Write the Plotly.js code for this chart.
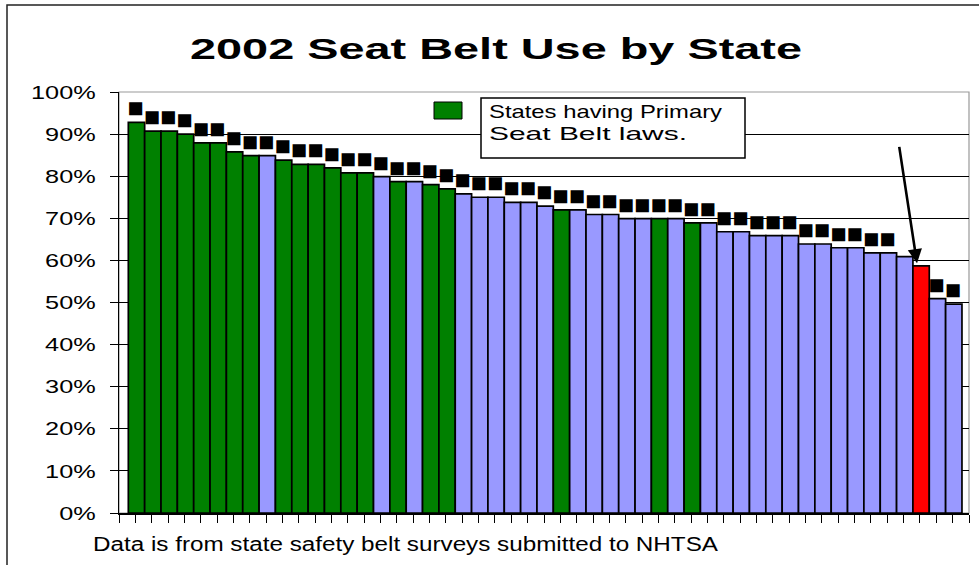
<!DOCTYPE html>
<html>
<head>
<meta charset="utf-8">
<script src="https://cdn.plot.ly/plotly-3.0.1.min.js"></script>
<style>
  html, body { margin: 0; padding: 0; background: #fff; }
  #chart { width: 979px; height: 565px; }
</style>
</head>
<body>
<div id="chart"></div>
<script>
// ---- Data ----
const chartTitle = "2002 Seat Belt Use by State";
const sourceNote = "Data is from state safety belt surveys submitted to NHTSA";
const legendLine1 = "States having Primary";
const legendLine2 = "Seat Belt laws.";

// Seat belt use, states ranked from highest to lowest (fraction)
const beltUse = [
  0.928, 0.907, 0.907, 0.900, 0.879, 0.879, 0.858, 0.849, 0.849, 0.838,
  0.828, 0.828, 0.820, 0.808, 0.808, 0.799, 0.787, 0.787, 0.780, 0.770,
  0.758, 0.750, 0.750, 0.738, 0.738, 0.729, 0.720, 0.720, 0.709, 0.709,
  0.699, 0.699, 0.699, 0.699, 0.689, 0.689, 0.668, 0.668, 0.659, 0.659,
  0.659, 0.639, 0.639, 0.630, 0.630, 0.618, 0.618, 0.609, 0.587, 0.509,
  0.496
];
// 1 = state has a primary seat belt law
const primaryLaw = [
  1, 1, 1, 1, 1, 1, 1, 1, 0, 1,
  1, 1, 1, 1, 1, 0, 1, 0, 1, 1,
  0, 0, 0, 0, 0, 0, 1, 0, 0, 0,
  0, 0, 1, 0, 1, 0, 0, 0, 0, 0,
  0, 0, 0, 0, 0, 0, 0, 0, 0, 0,
  0
];
const highlightedRank = 49;      // the state pointed at by the arrow
const unlabeledRanks = [48, 49]; // bars without a data label box

// ---- Derived ----
const rank = beltUse.map((v, i) => i + 1);
const barColors = rank.map((r, i) =>
  r === highlightedRank ? "#FF0000" : (primaryLaw[i] ? "#008000" : "#9999FF"));
// the original data labels render as solid black boxes
const barLabels = rank.map(r => unlabeledRanks.includes(r) ? "" : "\u25A0");

const FONT = "Liberation Sans, Arial, sans-serif";

const trace = {
  type: "bar",
  x: rank,
  y: beltUse,
  width: 1,
  marker: { color: barColors, line: { color: "#000", width: 1.7 } },
  text: barLabels,
  textposition: "outside",
  textfont: { family: "Liberation Sans", size: 27, color: "#000" },
  constraintext: "none",
  cliponaxis: false,
  hoverinfo: "skip"
};

// plot area in pixels (l=119, r=969, t=92, b=513)
const L = 119, R = 969, T = 92, B = 513;
const px = x => (x - L) / (R - L);
const py = y => (B - y) / (B - T);

const layout = {
  width: 979, height: 565,
  margin: { l: L, r: 979 - R, t: T, b: 565 - B, pad: 0 },
  paper_bgcolor: "#fff", plot_bgcolor: "#fff",
  showlegend: false,
  font: { family: FONT, color: "#000" },
  title: {
    text: chartTitle,
    font: { family: FONT, size: 29, color: "#000", weight: "bold" },
    x: 496 / 979, xanchor: "center", xref: "container",
    y: 1 - 49 / 565, yanchor: "middle", yref: "container"
  },
  xaxis: {
    range: [-0.07, 51.93],
    tickmode: "linear", tick0: -0.07, dtick: 1,
    ticks: "outside", ticklen: 8, tickwidth: 1, tickcolor: "#000",
    showticklabels: false,
    showline: true, linecolor: "#000", linewidth: 1.5,
    showgrid: false, zeroline: false, fixedrange: true
  },
  yaxis: {
    range: [0, 1],
    tickmode: "linear", tick0: 0, dtick: 0.1, tickformat: ".0%",
    ticks: "outside", ticklen: 8, tickwidth: 1, tickcolor: "#000",
    ticklabelstandoff: 10,
    tickfont: { family: FONT, size: 19, color: "#000" },
    showline: true, linecolor: "#000", linewidth: 1.5,
    showgrid: true, gridcolor: "#000", gridwidth: 1,
    zeroline: false, fixedrange: true
  },
  shapes: [
    // outer chart frame
    { type: "rect", xref: "paper", yref: "paper",
      x0: px(7), x1: px(1010), y0: py(600), y1: py(5),
      line: { color: "#222", width: 1.5 }, fillcolor: "rgba(0,0,0,0)", layer: "below" },
    // plot area border (grey top/right)
    { type: "rect", xref: "paper", yref: "paper",
      x0: 0, x1: 1, y0: 0, y1: 1,
      line: { color: "#999", width: 1.2 }, fillcolor: "rgba(0,0,0,0)", layer: "below" },
    // legend key swatch
    { type: "rect", xref: "paper", yref: "paper",
      x0: px(434), x1: px(462), y0: py(119), y1: py(102),
      line: { color: "#000", width: 1 }, fillcolor: "#008000" },
    // legend text box
    { type: "rect", xref: "paper", yref: "paper",
      x0: px(481), x1: px(745), y0: py(158), y1: py(98),
      line: { color: "#000", width: 1.5 }, fillcolor: "#fff" }
  ],
  annotations: [
    { xref: "paper", yref: "paper", x: px(487), y: py(111.5),
      xanchor: "left", yanchor: "middle", align: "left", showarrow: false,
      text: legendLine1, font: { family: FONT, size: 18.5, color: "#000" } },
    { xref: "paper", yref: "paper", x: px(487), y: py(133),
      xanchor: "left", yanchor: "middle", align: "left", showarrow: false,
      text: legendLine2, font: { family: FONT, size: 18.5, color: "#000" } },
    { xref: "paper", yref: "paper", x: px(91), y: py(544),
      xanchor: "left", yanchor: "middle", align: "left", showarrow: false,
      text: sourceNote, font: { family: FONT, size: 19.5, color: "#000" } },
    // arrow pointing at the highlighted state
    { xref: "x", yref: "y", x: highlightedRank - 0.25, y: beltUse[highlightedRank - 1] + 0.006,
      ax: -18, ay: -118, axref: "pixel", ayref: "pixel",
      text: "", showarrow: true, arrowhead: 2, arrowsize: 1.1, arrowwidth: 2.6,
      arrowcolor: "#000", standoff: 0 }
  ]
};

// widths the texts are horizontally stretched to (the reference is stretched)
const annWidths = { "0": 233, "1": 198, "2": 625 };

function stretchTexts() {
  const setLen = (el, w) => {
    if (!el || !(w > 0)) return;
    el.setAttribute("textLength", w);
    el.setAttribute("lengthAdjust", "spacingAndGlyphs");
  };
  try {
    setLen(document.querySelector("text.gtitle"), 612);
    document.querySelectorAll("g.ytick text").forEach(el => {
      setLen(el, el.getComputedTextLength() * 1.33);
    });
    document.querySelectorAll("g.annotation").forEach(g => {
      const idx = g.getAttribute("data-index");
      if (annWidths[idx]) setLen(g.querySelector("text.annotation-text"), annWidths[idx]);
    });
    // bar label boxes: bring them down closer to the bar tops
    document.querySelectorAll("text.bartext").forEach(el => {
      if (!el.textContent) return;
      const tr = el.getAttribute("transform") || "";
      el.setAttribute("transform", tr + " translate(-1,4)");
    });
  } catch (e) { console.log(e); }
}

Plotly.newPlot("chart", [trace], layout, { staticPlot: true, displayModeBar: false })
  .then(stretchTexts);
</script>
</body>
</html>
